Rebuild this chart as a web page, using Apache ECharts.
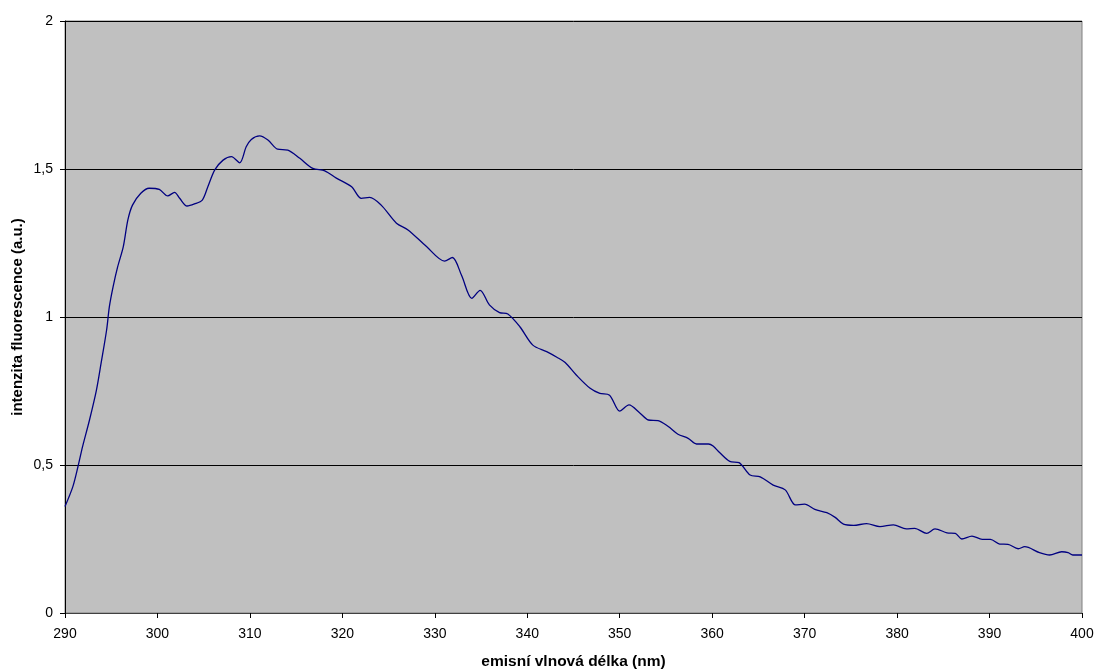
<!DOCTYPE html>
<html>
<head>
<meta charset="utf-8">
<script src="https://cdn.jsdelivr.net/npm/echarts@6/dist/echarts.min.js"></script>
<style>html,body{margin:0;padding:0;background:#fff}#c{width:1097px;height:671px}</style>
</head>
<body>
<div id="c"></div>
<script>
const wavelengths = [290.0,290.85,291.4,291.9,292.65,293.4,293.9,294.5,294.8,295.2,295.7,296.3,296.8,297.3,298.2,299.1,300.2,301.1,301.85,302.4,303.2,304.0,304.85,305.45,306.2,307.1,308.0,308.9,309.6,310.15,311.05,311.95,313.0,314.1,315.4,316.8,318.1,319.35,321.0,322.05,322.95,324.2,325.85,327.1,329.1,331.05,331.9,332.9,334.0,334.9,335.9,337.0,337.9,339.2,340.6,342.1,343.2,344.1,345.3,346.8,347.85,348.9,350.0,351.0,352.2,353.1,354.15,355.25,356.3,357.4,358.3,359.6,360.1,360.8,361.9,362.9,364.1,365.2,366.6,367.9,369.0,370.0,371.1,372.4,373.3,374.2,375.3,376.7,378.15,379.6,381.0,381.9,383.2,384.1,385.4,386.3,387.0,388.1,389.2,390.1,391.1,392.0,393.1,393.8,395.4,396.5,397.8,398.5,399.0,400.0];
const intensity = [0.36,0.427,0.494,0.562,0.652,0.753,0.843,0.956,1.035,1.102,1.170,1.237,1.328,1.378,1.418,1.435,1.431,1.409,1.421,1.401,1.375,1.382,1.395,1.440,1.497,1.530,1.542,1.521,1.575,1.600,1.612,1.598,1.567,1.564,1.536,1.502,1.494,1.469,1.440,1.401,1.404,1.378,1.317,1.294,1.238,1.189,1.201,1.140,1.063,1.090,1.041,1.015,1.010,0.967,0.905,0.883,0.864,0.846,0.804,0.759,0.742,0.736,0.682,0.703,0.675,0.652,0.650,0.630,0.604,0.590,0.571,0.571,0.564,0.542,0.512,0.508,0.466,0.460,0.432,0.416,0.365,0.368,0.350,0.339,0.323,0.300,0.296,0.302,0.292,0.298,0.284,0.286,0.269,0.284,0.271,0.269,0.250,0.260,0.249,0.249,0.233,0.232,0.217,0.224,0.204,0.196,0.207,0.204,0.196,0.196];
const xTicks = [290,300,310,320,330,340,350,360,370,380,390,400];
const yTicks = ['0','0,5','1','1,5','2'];
const xTitle = 'emisní vlnová délka (nm)';
const yTitle = 'intenzita fluorescence (a.u.)';

const chart = echarts.init(document.getElementById('c'), null, {renderer: 'canvas'});
const font = 'Liberation Sans, Arial, sans-serif';
chart.setOption({
  animation: false,
  backgroundColor: '#ffffff',
  grid: {left: 65, right: 15, top: 21, bottom: 58, show: true, backgroundColor: '#C0C0C0', borderColor: '#808080', borderWidth: 1, outerBoundsMode: 'none', containLabel: false},
  xAxis: {
    type: 'value', min: 290, max: 400, interval: 10,
    name: xTitle, nameLocation: 'middle', nameGap: 41, nameMoveOverlap: false,
    nameTextStyle: {fontFamily: font, fontSize: 15.5, fontWeight: 'bold', color: '#000'},
    axisLine: {show: true, lineStyle: {color: '#404040', width: 1}},
    axisTick: {show: true, length: 5, lineStyle: {color: '#000'}},
    axisLabel: {fontFamily: font, fontSize: 14, color: '#000', margin: 14,
      formatter: v => xTicks.includes(v) ? String(v) : ''},
    splitLine: {show: false}
  },
  yAxis: {
    type: 'value', min: 0, max: 2, interval: 0.5,
    name: yTitle, nameLocation: 'middle', nameGap: 40, nameMoveOverlap: false,
    nameTextStyle: {fontFamily: font, fontSize: 15, fontWeight: 'bold', color: '#000'},
    axisLine: {show: true, lineStyle: {color: '#000', width: 1}},
    axisTick: {show: true, length: 5, lineStyle: {color: '#000'}},
    axisLabel: {fontFamily: font, fontSize: 14, color: '#000', margin: 12,
      formatter: v => yTicks[Math.round(v / 0.5)]},
    splitLine: {show: true, lineStyle: {color: '#000', width: 1}}
  },
  series: [{
    type: 'line',
    data: wavelengths.map((w, i) => [w, intensity[i]]),
    smooth: 0.3,
    showSymbol: false,
    lineStyle: {color: '#000080', width: 1.3}
  }]
});
</script>
</body>
</html>
